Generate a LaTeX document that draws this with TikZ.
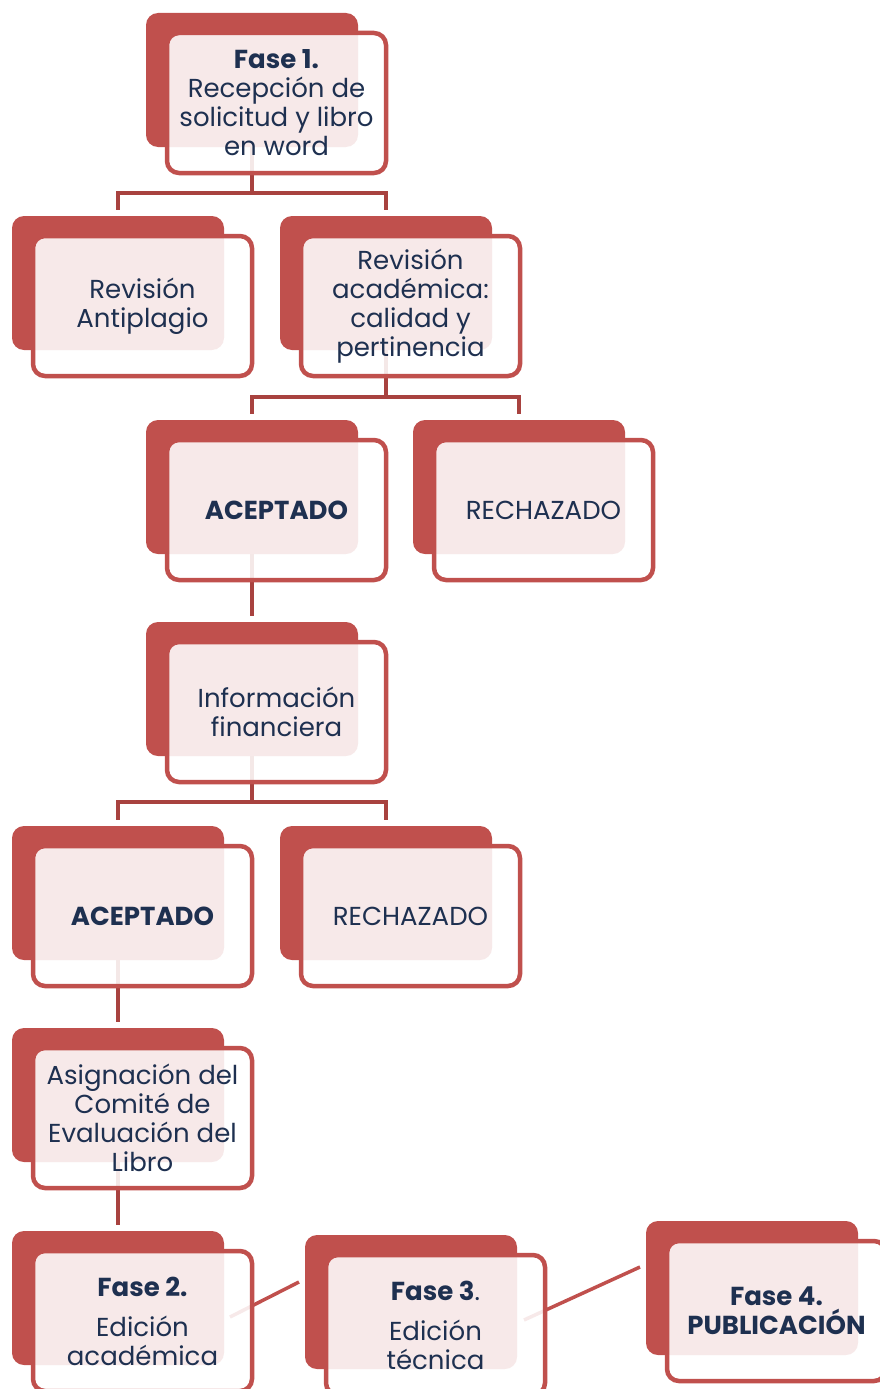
\documentclass[tikz,border=0pt]{standalone}
\usepackage{fontspec}
\setmainfont{Poppins}
\usetikzlibrary{positioning,backgrounds}
\definecolor{cajaroja}{HTML}{C0504D}
\definecolor{ramaroja}{HTML}{A8423F}
\definecolor{textoazul}{HTML}{1E3050}
\tikzset{
  fondo/.style={fill=cajaroja, rounded corners=12pt, minimum width=212pt,
    minimum height=134pt, inner sep=0pt},
  caja/.style={draw=cajaroja, line width=4.5pt, fill=white, fill opacity=0.88,
    text opacity=1, rounded corners=12pt, minimum width=219pt,
    minimum height=140pt, inner sep=0pt, align=center, text=textoazul,
    font=\fontsize{26}{29}\selectfont},
  rama/.style={draw=ramaroja, line width=4.5pt},
  enlace/.style={draw=cajaroja, line width=3.5pt},
}
\begin{document}
\begin{tikzpicture}[x=1pt,y=-1pt]
  \useasboundingbox (0,0) rectangle (879,1389);
  % fondos rojos
  \node[fondo] (fase1) at (252,80) {};
  \node[fondo] (antiplagio) at (118,283) {};
  \node[fondo] (academica) at (386,283) {};
  \node[fondo] (acepuno) at (252,487) {};
  \node[fondo] (rechuno) at (519,487) {};
  \node[fondo] (financiera) at (252,689) {};
  \node[fondo] (acepdos) at (118,893) {};
  \node[fondo] (rechdos) at (386,893) {};
  \node[fondo] (comite) at (118,1095) {};
  \node[fondo] (fase2) at (118,1298) {};
  \node[fondo] (fase3) at (411,1302) {};
  \node[fondo] (fase4) at (752,1288) {};

  % conectores detras
  \begin{pgfonlayer}{background}
    \draw[rama] (fase1.center) |- ([yshift=23pt]antiplagio.north) -- ([yshift=6pt]antiplagio.north);
    \draw[rama] (fase1.center) |- ([yshift=23pt]academica.north) -- ([yshift=6pt]academica.north);
    \draw[rama] (academica.center) |- ([yshift=23pt]acepuno.north) -- ([yshift=6pt]acepuno.north);
    \draw[rama] (academica.center) |- ([yshift=23pt]rechuno.north) -- ([yshift=6pt]rechuno.north);
    \draw[rama] (acepuno.center) -- ([yshift=6pt]financiera.north);
    \draw[rama] (financiera.center) |- ([yshift=24pt]acepdos.north) -- ([yshift=6pt]acepdos.north);
    \draw[rama] (financiera.center) |- ([yshift=24pt]rechdos.north) -- ([yshift=6pt]rechdos.north);
    \draw[rama] (acepdos.center) -- ([yshift=6pt]comite.north);
    \draw[rama] (comite.center) -- ([yshift=6pt]fase2.north);
    \coordinate (dosa) at (230,1317);
    \coordinate (dosb) at (299,1282);
    \coordinate (tresa) at (524,1320);
    \coordinate (tresb) at (640,1267);
    \draw[enlace] (dosa) -- (dosb);
    \draw[enlace] (tresa) -- (tresb);
  \end{pgfonlayer}

  % cajas con texto
  \node[caja] (fase1t) at ([shift={(24.5,23)}]fase1.center) {\textbf{Fase 1.}\\Recepción de\\solicitud y libro\\en word};
  \node[caja] (antiplagiot) at ([shift={(24.5,23)}]antiplagio.center) {Revisión\\Antiplagio};
  \node[caja] (academicat) at ([shift={(24.5,23)}]academica.center) {Revisión\\académica:\\calidad y\\pertinencia};
  \node[caja] (acepunot) at ([shift={(24.5,23)}]acepuno.center) {\textbf{ACEPTADO}};
  \node[caja] (rechunot) at ([shift={(24.5,23)}]rechuno.center) {RECHAZADO};
  \node[caja] (financierat) at ([shift={(24.5,23)}]financiera.center) {Información\\financiera};
  \node[caja] (acepdost) at ([shift={(24.5,23)}]acepdos.center) {\textbf{ACEPTADO}};
  \node[caja] (rechdost) at ([shift={(24.5,23)}]rechdos.center) {RECHAZADO};
  \node[caja] (comitet) at ([shift={(24.5,23)}]comite.center) {Asignación del\\Comité de\\Evaluación del\\Libro};
  \node[caja] (fase2t) at ([shift={(24.5,23)}]fase2.center) {\textbf{Fase 2.}\\[11pt]Edición\\académica};
  \node[caja] (fase3t) at ([shift={(24.5,23)}]fase3.center) {\textbf{Fase 3}.\\[11pt]Edición\\técnica};
  \node[caja] (fase4t) at ([shift={(24.5,23)}]fase4.center) {\textbf{Fase 4.}\\\textbf{PUBLICACIÓN}};
\end{tikzpicture}
\end{document}
